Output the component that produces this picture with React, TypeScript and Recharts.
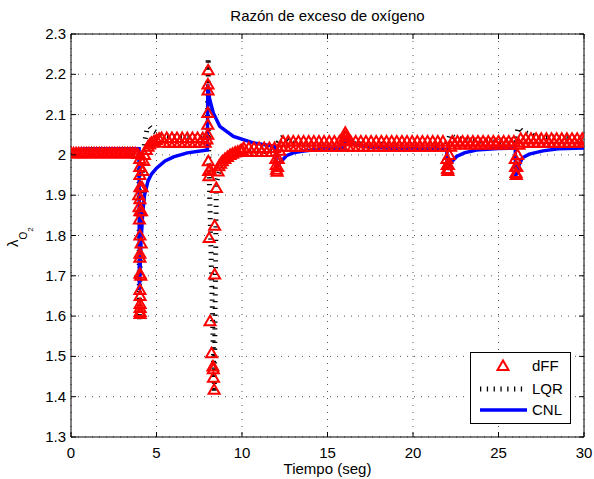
import { ComposedChart, Line, Scatter, XAxis, YAxis, CartesianGrid, ReferenceArea } from 'recharts';

// axes
const xTicks = [0, 5, 10, 15, 20, 25, 30];
const yTicks = [1.3, 1.4, 1.5, 1.6, 1.7, 1.8, 1.9, 2.0, 2.1, 2.2, 2.3];
const seriesNames = ['dFF', 'LQR', 'CNL'];

// dFF (red triangles) [t, lambda]
const dffPoints: [number, number][] = [
  [0, 2.004], [0.15, 2.004], [0.3, 2.004], [0.45, 2.004], [0.6, 2.004], [0.75, 2.004], [0.9, 2.004], [1.05, 2.004], [1.2, 2.004],
  [1.35, 2.004], [1.5, 2.004], [1.65, 2.004], [1.8, 2.004], [1.95, 2.004], [2.1, 2.004], [2.25, 2.004], [2.4, 2.004], [2.55, 2.004],
  [2.7, 2.004], [2.85, 2.004], [3.0, 2.004], [3.15, 2.004], [3.3, 2.004], [3.45, 2.004], [3.6, 2.004], [3.75, 2.004], [3.9, 2.002],
  [3.96, 1.9], [3.98, 1.87], [4.0, 1.84], [4.02, 1.99], [4.02, 1.97], [4.03, 1.95], [4.03, 1.92], [4.03, 1.89], [4.03, 1.86], [4.03, 1.8],
  [4.03, 1.755], [4.03, 1.745], [4.03, 1.705], [4.03, 1.665], [4.04, 1.65], [4.04, 1.63], [4.04, 1.62], [4.04, 1.61], [4.04, 1.605],
  [4.08, 1.7], [4.1, 1.78], [4.12, 1.86], [4.15, 1.92], [4.2, 1.96], [4.25, 1.985], [4.3, 2.0], [4.4, 2.012], [4.5, 2.02], [4.6, 2.026],
  [4.7, 2.03], [4.85, 2.034], [5.0, 2.037], [5.15, 2.04],
  [5.3, 2.042], [5.45, 2.03], [5.6, 2.042], [5.75, 2.03], [5.9, 2.042], [6.05, 2.03], [6.2, 2.042], [6.35, 2.03], [6.5, 2.042],
  [6.65, 2.03], [6.8, 2.042], [6.95, 2.03], [7.1, 2.042], [7.25, 2.03], [7.4, 2.042], [7.55, 2.03], [7.7, 2.042], [7.85, 2.03], [7.95, 2.038],
  [8.0, 2.05], [8.0, 2.075], [8.0, 2.104], [8.01, 2.16], [8.01, 2.175], [8.02, 2.21],
  [8.03, 1.984], [8.05, 1.96], [8.07, 1.947], [8.08, 1.794], [8.13, 1.963], [8.13, 1.587], [8.22, 1.508], [8.3, 1.475], [8.32, 1.468],
  [8.33, 1.447], [8.37, 1.417], [8.4, 1.703], [8.4, 1.824], [8.5, 1.918], [8.6, 1.959],
  [8.65, 1.972], [8.75, 1.978], [8.85, 1.984], [9.0, 1.99], [9.15, 1.995], [9.3, 2.0], [9.45, 2.003], [9.6, 2.006], [9.75, 2.008],
  [9.9, 2.01], [10.0, 2.012],
  [10.1, 2.017], [10.25, 2.007], [10.4, 2.017], [10.55, 2.007], [10.7, 2.017], [10.85, 2.007], [11.0, 2.017], [11.15, 2.007],
  [11.3, 2.017], [11.45, 2.007], [11.6, 2.017], [11.75, 2.007], [11.9, 2.017],
  [11.98, 1.99], [12.0, 1.975], [12.02, 1.963], [12.05, 1.958], [12.08, 1.97], [12.12, 1.99], [12.2, 2.01], [12.3, 2.02],
  [12.4, 2.033], [12.55, 2.02], [12.7, 2.033], [12.85, 2.02], [13.0, 2.033], [13.15, 2.02], [13.3, 2.033], [13.45, 2.02], [13.6, 2.033],
  [13.75, 2.02], [13.9, 2.033], [14.05, 2.02], [14.2, 2.033], [14.35, 2.02], [14.5, 2.033], [14.65, 2.02], [14.8, 2.033], [14.95, 2.02],
  [15.1, 2.033], [15.25, 2.02], [15.4, 2.033], [15.55, 2.02], [15.7, 2.033], [15.85, 2.02],
  [16.0, 2.035], [16.02, 2.045], [16.04, 2.055], [16.08, 2.045], [16.12, 2.035],
  [16.2, 2.02], [16.35, 2.033], [16.5, 2.02], [16.65, 2.033], [16.8, 2.02], [16.95, 2.033], [17.1, 2.02], [17.25, 2.033], [17.4, 2.02],
  [17.55, 2.033], [17.7, 2.02], [17.85, 2.033], [18.0, 2.02], [18.15, 2.033], [18.3, 2.02], [18.45, 2.033], [18.6, 2.02], [18.75, 2.033],
  [18.9, 2.02], [19.05, 2.033], [19.2, 2.02], [19.35, 2.033], [19.5, 2.02], [19.65, 2.033], [19.8, 2.02], [19.95, 2.033], [20.1, 2.02],
  [20.25, 2.033], [20.4, 2.02], [20.55, 2.033], [20.7, 2.02], [20.85, 2.033], [21.0, 2.02], [21.15, 2.033], [21.3, 2.02], [21.45, 2.033],
  [21.6, 2.02], [21.75, 2.033], [21.9, 2.02],
  [21.98, 1.99], [22.0, 1.975], [22.02, 1.965], [22.04, 1.96], [22.07, 1.975], [22.12, 2.0], [22.2, 2.02],
  [22.3, 2.033], [22.45, 2.026], [22.6, 2.033], [22.75, 2.026], [22.9, 2.033], [23.05, 2.026], [23.2, 2.033], [23.35, 2.026],
  [23.5, 2.033], [23.65, 2.026], [23.8, 2.033], [23.95, 2.026], [24.1, 2.033], [24.25, 2.026], [24.4, 2.033], [24.55, 2.026],
  [24.7, 2.033], [24.85, 2.026], [25.0, 2.033], [25.15, 2.026], [25.3, 2.033], [25.45, 2.026], [25.6, 2.033], [25.75, 2.026], [25.9, 2.033],
  [25.98, 1.99], [26.0, 1.97], [26.02, 1.955], [26.04, 1.95], [26.07, 1.97], [26.12, 2.0], [26.2, 2.025],
  [26.3, 2.04], [26.45, 2.03], [26.6, 2.04], [26.75, 2.03], [26.9, 2.04], [27.05, 2.03], [27.2, 2.04], [27.35, 2.03], [27.5, 2.04],
  [27.65, 2.03], [27.8, 2.04], [27.95, 2.03], [28.1, 2.04], [28.25, 2.03], [28.4, 2.04], [28.55, 2.03], [28.7, 2.04], [28.85, 2.03],
  [29.0, 2.04], [29.15, 2.03], [29.3, 2.04], [29.45, 2.03], [29.6, 2.04], [29.75, 2.03], [29.9, 2.04], [30, 2.035],
];

// LQR (black dotted)
const lqrPoints: [number, number][] = [
  [0, 2.0], [3.98, 2.0], [4.0, 1.59], [4.05, 1.75], [4.1, 1.88], [4.2, 1.98], [4.3, 2.03], [4.45, 2.065], [4.6, 2.07], [4.8, 2.06],
  [5.2, 2.05], [6, 2.045], [7.98, 2.045], [8.02, 2.24], [8.06, 1.99], [8.38, 1.41], [8.5, 1.93], [8.7, 1.965], [9.2, 1.99], [10, 2.005],
  [11.98, 2.01], [12.1, 2.03], [12.4, 2.046], [12.8, 2.032], [13.5, 2.026], [15.98, 2.022], [16.05, 2.04], [16.6, 2.028], [21.98, 2.022],
  [22.15, 2.05], [22.4, 2.044], [23.2, 2.035], [25.98, 2.03], [26.15, 2.068], [26.4, 2.058], [27.2, 2.046], [30, 2.042],
];

// CNL (blue solid)
const cnlPoints: [number, number][] = [
  [0, 2.012], [0.5, 2.014], [1, 2.015], [3.98, 2.015], [4.0, 1.665], [4.05, 1.73], [4.1, 1.79], [4.2, 1.86], [4.3, 1.9], [4.5, 1.935],
  [4.7, 1.952], [5.0, 1.967], [5.5, 1.985], [6.0, 1.995], [6.8, 2.005], [7.98, 2.012], [8.0, 2.175], [8.1, 2.14], [8.32, 2.104], [8.7, 2.071],
  [9.5, 2.046], [10.66, 2.03], [11.98, 2.021], [12.0, 1.963], [12.2, 1.98], [12.6, 1.998], [13.0, 2.005], [13.5, 2.009], [14.7, 2.015],
  [15.98, 2.017], [16.0, 2.042], [16.3, 2.032], [16.7, 2.025], [17.5, 2.019], [19, 2.016], [21.98, 2.014], [22.0, 1.963], [22.2, 1.98],
  [22.55, 1.996], [23, 2.005], [23.7, 2.012], [25, 2.016], [25.98, 2.017], [26.0, 1.947], [26.2, 1.975], [26.4, 1.993], [26.8, 2.002],
  [27.6, 2.01], [28.5, 2.015], [30, 2.017],
];

const toRows = (pts: [number, number][]) => pts.map(([t, v]) => ({ t, v }));
const dffData = toRows(dffPoints);
const lqrData = toRows(lqrPoints);
const cnlData = toRows(cnlPoints);

const W = 594;
const H = 479;
const TOP = 34;
const LEFT = 71;
const RIGHT = 584;
const FONT = 15;

const fmt = (v: number) => String(Number(v.toFixed(1)));

const Triangle = (props: any) => {
  const { cx, cy } = props;
  if (cx == null || cy == null) return null;
  return (
    <polygon
      points={`${cx},${cy - 5.5} ${cx - 5.5},${cy + 4} ${cx + 5.5},${cy + 4}`}
      fill="none"
      stroke="#ff0000"
      strokeWidth={2}
    />
  );
};

const XTick = ({ x, y, payload }: any) => (
  <g>
    <line x1={x} x2={x} y1={y} y2={y - 5} stroke="#000" />
    <line x1={x} x2={x} y1={TOP} y2={TOP + 5} stroke="#000" />
    <text x={x} y={y + 21} textAnchor="middle" fontSize={FONT} fill="#000">{payload.value}</text>
  </g>
);

const YTick = ({ x, y, payload }: any) => (
  <g>
    <line x1={x} x2={x + 5} y1={y} y2={y} stroke="#000" />
    <line x1={RIGHT} x2={RIGHT - 5} y1={y} y2={y} stroke="#000" />
    <text x={x - 5} y={y + 5} textAnchor="end" fontSize={FONT} fill="#000">{fmt(payload.value)}</text>
  </g>
);

export default function App() {
  return (
    <div style={{ position: 'absolute', left: 0, top: 0, width: W, height: H, background: '#fff', fontFamily: '"Liberation Sans", Arial, sans-serif' }}>
      <ComposedChart width={W} height={H} margin={{ top: TOP, right: W - RIGHT, bottom: 12, left: 11 }}>
        <CartesianGrid stroke="#555" strokeDasharray="1 6" />
        <XAxis
          dataKey="t"
          type="number"
          domain={[0, 30]}
          ticks={xTicks}
          allowDataOverflow
          height={30}
          axisLine={false}
          tickLine={false}
          tickSize={0}
          tickMargin={0}
          tick={(p: any) => <XTick {...p} />}
        />
        <YAxis
          type="number"
          domain={[1.3, 2.3]}
          ticks={yTicks}
          allowDataOverflow
          width={60}
          axisLine={false}
          tickLine={false}
          tickSize={0}
          tickMargin={0}
          tick={(p: any) => <YTick {...p} />}
        />
        <Scatter name={seriesNames[0]} data={dffData} dataKey="v" shape={Triangle} isAnimationActive={false} />
        <Line name={seriesNames[1]} data={lqrData} dataKey="v" type="linear" dot={false} stroke="#000" strokeWidth={5} strokeDasharray="1.3 5.5" isAnimationActive={false} />
        <Line name={seriesNames[2]} data={cnlData} dataKey="v" type="linear" dot={false} stroke="#0000ff" strokeWidth={3.5} isAnimationActive={false} />
        <ReferenceArea x1={0} x2={30} y1={1.3} y2={2.3} fill="none" fillOpacity={0} stroke="#000" strokeWidth={1} />
      </ComposedChart>
      <svg width={W} height={H} style={{ position: 'absolute', left: 0, top: 0, pointerEvents: 'none' }}>
        <text x={(LEFT + RIGHT) / 2} y={21} textAnchor="middle" fontSize={FONT} fill="#000">Razón de exceso de oxígeno</text>
        <text x={(LEFT + RIGHT) / 2} y={474} textAnchor="middle" fontSize={FONT} fill="#000">Tiempo (seg)</text>
        <text transform="rotate(-90)" x={-247} y={18} fontSize={FONT} fill="#000">
          λ<tspan fontSize={10} dy={9}>O</tspan><tspan fontSize={8} dy={6}>2</tspan>
        </text>
        <g>
          <rect x={470.5} y={352.5} width={100} height={71} fill="#fff" stroke="#000" />
          <polygon points="503,360.5 497.5,370 508.5,370" fill="none" stroke="#ff0000" strokeWidth={2} />
          <text x={532} y={371} fontSize={FONT} fill="#000">{seriesNames[0]}</text>
          <line x1={480} x2={526} y1={389} y2={389} stroke="#000" strokeWidth={5} strokeDasharray="1.3 5.5" />
          <text x={532} y={394} fontSize={FONT} fill="#000">{seriesNames[1]}</text>
          <line x1={480} x2={527} y1={410} y2={410} stroke="#0000ff" strokeWidth={3.5} />
          <text x={532} y={415} fontSize={FONT} fill="#000">{seriesNames[2]}</text>
        </g>
      </svg>
    </div>
  );
}
